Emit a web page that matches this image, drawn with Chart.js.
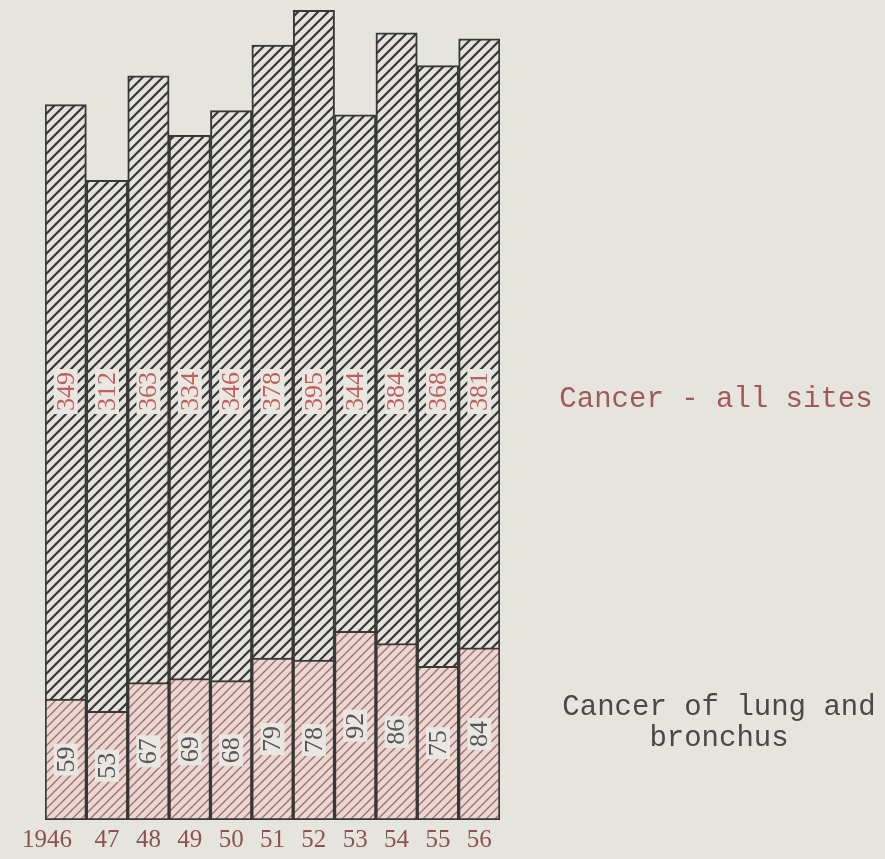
<!DOCTYPE html>
<html>
<head>
<meta charset="utf-8">
<script src="https://cdn.jsdelivr.net/npm/chart.js@4"></script>
<style>
  html, body { margin: 0; padding: 0; background: #e5e4dd; }
  #wrap { width: 885px; height: 859px; position: relative; }
</style>
</head>
<body>
<div id="wrap"><canvas id="c"></canvas></div>
<script>
// ---- data ----
const years = ["1946", "47", "48", "49", "50", "51", "52", "53", "54", "55", "56"];
const allSites = [349, 312, 363, 334, 346, 378, 395, 344, 384, 368, 381];
const lungBronchus = [59, 53, 67, 69, 68, 79, 78, 92, 86, 75, 84];
const seriesNames = ["Cancer - all sites", "Cancer of lung and bronchus"];
const legendLines = [["Cancer - all sites"], ["Cancer of lung and", "bronchus"]];

const BG = '#e5e4dd';

function hatch(bg, line, lw, s) {
  const c = document.createElement('canvas');
  c.width = c.height = s;
  const g = c.getContext('2d');
  g.fillStyle = bg; g.fillRect(0, 0, s, s);
  g.strokeStyle = line; g.lineWidth = lw; g.lineCap = 'square';
  g.beginPath();
  g.moveTo(0, s); g.lineTo(s, 0);
  g.moveTo(-s / 2, s / 2); g.lineTo(s / 2, -s / 2);
  g.moveTo(s / 2, s * 1.5); g.lineTo(s * 1.5, s / 2);
  g.stroke();
  return g.createPattern(c, 'repeat');
}

const grayHatch = hatch('#e3e2dc', '#363636', 2.2, 10);
const redHatch = hatch('#e6d9d4', '#ad6664', 1.3, 9);

const bgPlugin = {
  id: 'bg',
  beforeDraw(chart) {
    const ctx = chart.ctx;
    ctx.save();
    ctx.fillStyle = BG;
    ctx.fillRect(0, 0, chart.width, chart.height);
    ctx.restore();
  }
};

function rotatedLabel(ctx, text, x, y, color, font) {
  ctx.save();
  ctx.translate(x, y);
  ctx.rotate(-Math.PI / 2);
  ctx.font = font;
  const w = ctx.measureText(text).width;
  ctx.fillStyle = '#e8e7e2';
  ctx.fillRect(-w / 2 - 3, -12, w + 6, 24);
  ctx.fillStyle = color;
  ctx.textAlign = 'center';
  ctx.textBaseline = 'middle';
  ctx.fillText(text, 0, 1);
  ctx.restore();
}

const labelPlugin = {
  id: 'labels',
  afterDatasetsDraw(chart) {
    const ctx = chart.ctx;
    const ys = chart.scales.y;
    const metaAll = chart.getDatasetMeta(0);
    const metaLung = chart.getDatasetMeta(1);
    const font = '26px "Liberation Serif", "DejaVu Serif", serif';
    allSites.forEach((v, i) => {
      const x = metaAll.data[i].x;
      rotatedLabel(ctx, String(v), x, ys.getPixelForValue(209), '#c0605c', font);
    });
    lungBronchus.forEach((v, i) => {
      const x = metaLung.data[i].x;
      rotatedLabel(ctx, String(v), x, ys.getPixelForValue(v / 2), '#5a5656', font);
    });
    // side captions
    ctx.save();
    ctx.font = '29px "Liberation Mono", "DejaVu Sans Mono", monospace';
    ctx.textBaseline = 'alphabetic';
    ctx.textAlign = 'center';
    ctx.fillStyle = '#a05a58';
    ctx.fillText(legendLines[0][0], 716, 407);
    ctx.fillStyle = '#4a4848';
    ctx.fillText(legendLines[1][0], 719, 715);
    ctx.fillText(legendLines[1][1], 719, 746);
    ctx.restore();
  }
};

new Chart(document.getElementById('c'), {
  type: 'bar',
  data: {
    labels: years,
    datasets: [
      {
        label: seriesNames[0],
        data: allSites,
        backgroundColor: grayHatch,
        borderColor: '#383838',
        borderWidth: 2,
        borderSkipped: false,
        order: 1,
        barPercentage: 1,
        categoryPercentage: 1
      },
      {
        label: seriesNames[1],
        data: lungBronchus,
        backgroundColor: redHatch,
        borderColor: '#383838',
        borderWidth: 2,
        borderSkipped: false,
        order: 0,
        barPercentage: 1,
        categoryPercentage: 1
      }
    ]
  },
  options: {
    responsive: true,
    maintainAspectRatio: false,
    animation: false,
    layout: { padding: { left: 45, right: 385, top: 0, bottom: 0 } },
    plugins: { legend: { display: false }, tooltip: { enabled: false } },
    scales: {
      x: {
        stacked: true,
        grid: { display: false, drawTicks: false },
        border: { display: false },
        ticks: {
          color: '#8e5350',
          font: { family: '"Liberation Serif", "DejaVu Serif", serif', size: 25 },
          padding: 5,
          maxRotation: 0,
          autoSkip: false,
          // first label sits left of its bar in the reference: pad with figure spaces
          callback: (v, i) => (i === 0 ? years[i] + '\u2007\u2007\u2007' : years[i])
        },
        afterFit(scale) { scale.height = 39; }
      },
      y: {
        stacked: false,
        display: false,
        min: 0,
        max: 400
      }
    }
  },
  plugins: [bgPlugin, labelPlugin]
});
</script>
</body>
</html>
